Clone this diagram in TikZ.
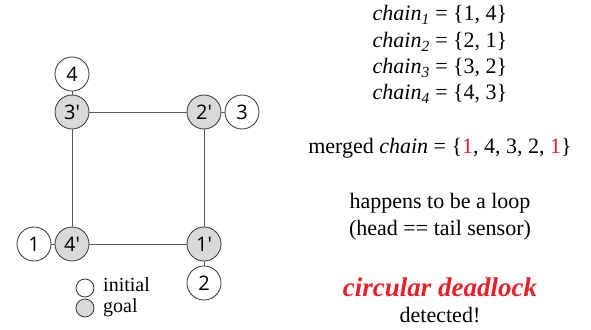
\documentclass[tikz,border=0pt]{standalone}
\usepackage{fontspec}
\setmainfont{Liberation Serif}
\newfontfamily\numfont{Open Sans}
\definecolor{edgegray}{HTML}{5A5A5A}
\definecolor{goalfill}{HTML}{D9D9D9}
\definecolor{alertred}{HTML}{E8202A}
\begin{document}
\begin{tikzpicture}[x=1pt,y=-1pt,
  sensor/.style={circle,draw=black!80,line width=0.8pt,minimum size=34pt,inner sep=0pt,font=\numfont\fontsize{20}{22}\selectfont},
  initial/.style={sensor,fill=white},
  goal/.style={sensor,fill=goalfill},
  link/.style={draw=edgegray,line width=0.8pt},
  legend/.style={circle,draw=black!80,line width=0.8pt,minimum size=18pt,inner sep=0pt},
  txt/.style={font=\fontsize{22}{26}\selectfont,inner sep=0pt},
  legtxt/.style={font=\fontsize{20}{24}\selectfont,inner sep=0pt,anchor=west,text height=10pt,text depth=3pt}]
\useasboundingbox (0,0) rectangle (591,329);
% goal positions (square)
\node[goal] (g3) at (72,112) {3'};
\node[goal] (g2) at (204,112) {2'};
\node[goal] (g4) at (72,244) {4'};
\node[goal] (g1) at (204,244) {1'};
% initial positions
\node[initial] (i4) at (72,74) {4};
\node[initial] (i3) at (242,112) {3};
\node[initial] (i1) at (34,244) {1};
\node[initial] (i2) at (204,283) {2};
% square edges
\draw[link] (g3) -- (g2);
\draw[link] (g2) -- (g1);
\draw[link] (g1) -- (g4);
\draw[link] (g4) -- (g3);
% attachments
\draw[link] (i4) -- (g3);
\draw[link] (g2) -- (i3);
\draw[link] (i1) -- (g4);
\draw[link] (g1) -- (i2);
% legend
\node[legend,fill=white] (li) at (85,288) {};
\node[legend,fill=goalfill] (lg) at (85,308) {};
\node[legtxt] (lit) at (103,288) {initial};
\node[legtxt] (lgt) at (103,309) {goal};
% chains
\node[txt] (c1) at (440,15) {\textit{chain\textsubscript{1}} = \{1, 4\}};
\node[txt] (c2) at (440,42) {\textit{chain\textsubscript{2}} = \{2, 1\}};
\node[txt] (c3) at (440,68) {\textit{chain\textsubscript{3}} = \{3, 2\}};
\node[txt] (c4) at (440,94) {\textit{chain\textsubscript{4}} = \{4, 3\}};
\node[txt] (mc) at (440,148) {merged \textit{chain} = \{\textcolor{alertred}{1}, 4, 3, 2, \textcolor{alertred}{1}\}};
\node[txt] (h1) at (440,203) {happens to be a loop};
\node[txt] (h2) at (440,230) {(head == tail sensor)};
\node[txt,font=\fontsize{27}{29}\selectfont\bfseries\itshape,text=alertred] (cd) at (440,287) {circular deadlock};
\node[txt] (dt) at (440,315) {detected!};
\end{tikzpicture}
\end{document}
